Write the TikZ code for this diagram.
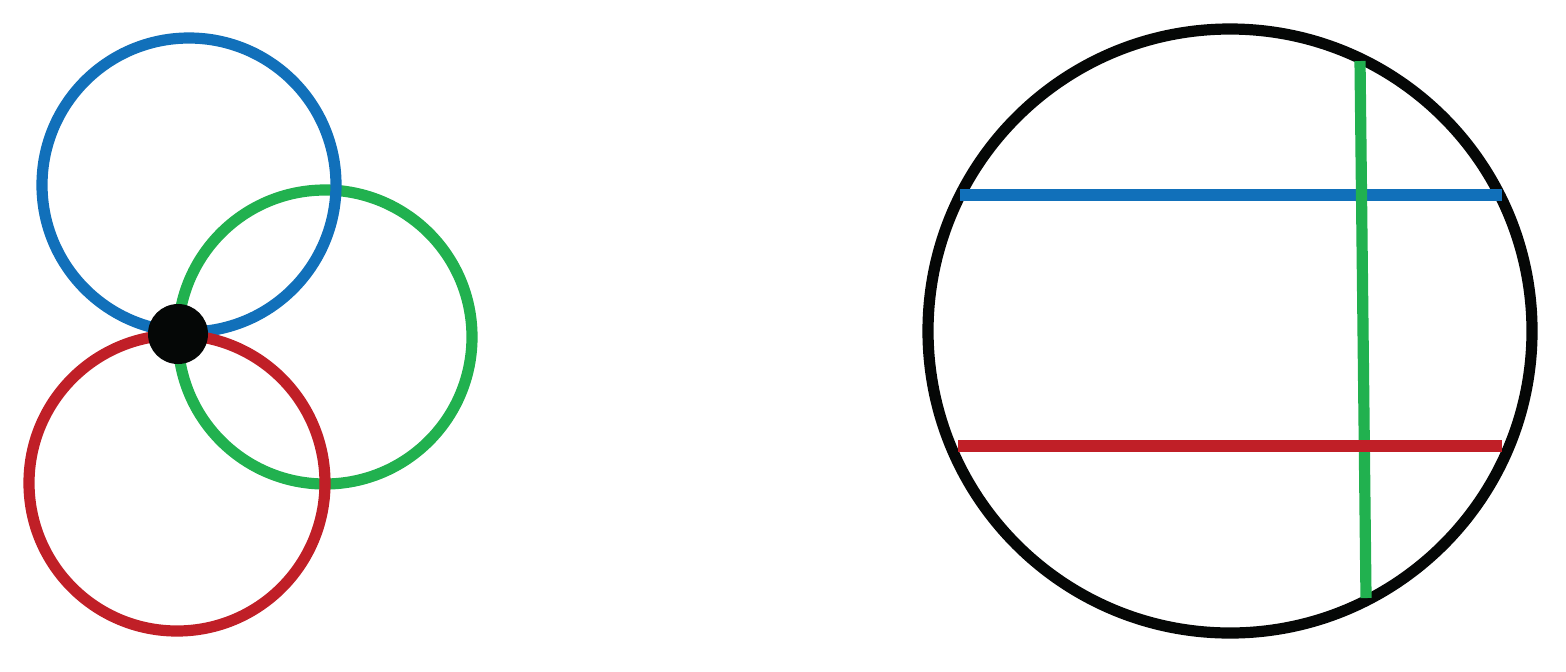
\documentclass[tikz,border=0pt]{standalone}
\usepackage{tikz}

\definecolor{ringblue}{HTML}{1170BA}
\definecolor{ringgreen}{HTML}{21B14F}
\definecolor{ringred}{HTML}{C01F27}
\definecolor{ringblack}{HTML}{050706}

\tikzset{
  ring/.style={line width=5.6pt},
  chord/.style={line width=5.6pt, line cap=butt},
}

\begin{document}
\begin{tikzpicture}[x=0.5pt, y=-0.5pt]
  \useasboundingbox (0,0) rectangle (1566,671);

  % three circles through one point
  \coordinate (pt) at (178,334);
  \coordinate (cb) at (189,185);
  \coordinate (cg) at (325,337);
  \coordinate (cr) at (177,483);

  \draw[ring, ringgreen] (cg) circle[radius=147];
  \draw[ring, ringblue] (cb) circle[radius=147];
  \draw[ring, ringred] (cr) circle[radius=148];
  \fill[ringblack] (pt) circle[radius=30];

  % big circle with chords
  \coordinate (big) at (1230,331);
  \draw[ring, ringblack] (big) circle[radius=302];

  \coordinate (b1) at (960,195);
  \coordinate (b2) at (1502,195);
  \coordinate (g1) at (1360,61);
  \coordinate (g2) at (1366,598);
  \coordinate (r1) at (958,446);
  \coordinate (r2) at (1502,446);

  \draw[chord, ringblue] (b1) -- (b2);
  \draw[chord, ringgreen] (g1) -- (g2);
  \draw[chord, ringred] (r1) -- (r2);
\end{tikzpicture}
\end{document}
